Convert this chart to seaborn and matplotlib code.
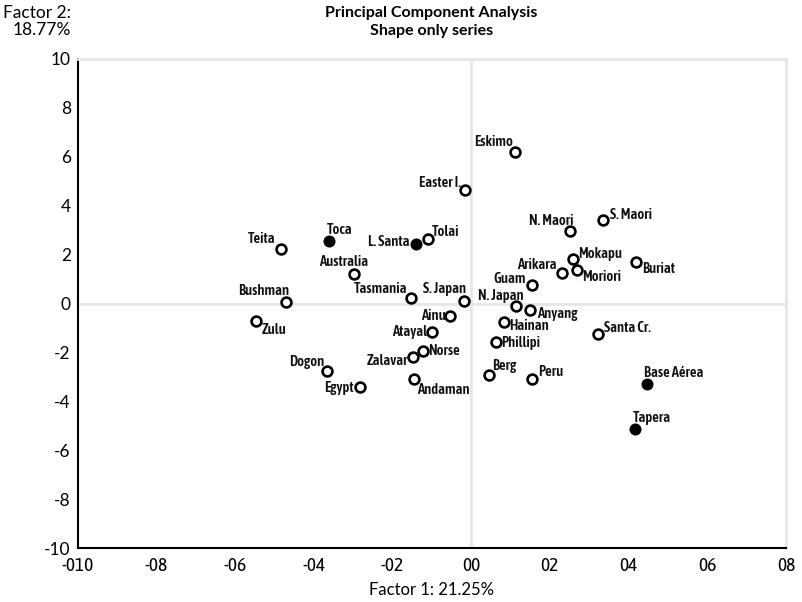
import pandas as pd
import matplotlib.pyplot as plt
import seaborn as sns

# values
names = ['Eskimo', 'Easter I.', 'Teita', 'Toca', 'L. Santa', 'Tolai', 'Australia',
         'Bushman', 'Tasmania', 'S. Japan', 'Zulu', 'Ainu', 'Atayal', 'Norse',
         'Zalavar', 'Dogon', 'Egypt', 'Andaman', 'N. Maori', 'S. Maori', 'Mokapu',
         'Arikara', 'Moriori', 'Buriat', 'Guam', 'N. Japan', 'Anyang', 'Hainan',
         'Phillipi', 'Santa Cr.', 'Berg', 'Peru', 'Base Aérea', 'Tapera']
factor1 = [1.12, -0.15, -4.84, -3.62, -1.40, -1.11, -2.99,
           -4.70, -1.53, -0.18, -5.47, -0.55, -1.00, -1.23,
           -1.47, -3.66, -2.83, -1.45, 2.52, 3.36, 2.58,
           2.30, 2.69, 4.18, 1.54, 1.13, 1.49, 0.83,
           0.62, 3.21, 0.45, 1.55, 4.47, 4.16]
factor2 = [6.18, 4.63, 2.24, 2.58, 2.42, 2.65, 1.22,
           0.05, 0.25, 0.11, -0.69, -0.52, -1.16, -1.94,
           -2.19, -2.76, -3.41, -3.07, 2.95, 3.41, 1.81,
           1.26, 1.38, 1.72, 0.77, -0.10, -0.24, -0.74,
           -1.57, -1.26, -2.93, -3.10, -3.30, -5.14]
filled = ['Toca', 'L. Santa', 'Base Aérea', 'Tapera']

x_ticks = [-10, -8, -6, -4, -2, 0, 2, 4, 6, 8]
x_tick_labels = ['-010', '-08', '-06', '-04', '-02', '00', '02', '04', '06', '08']
y_ticks = [-10, -8, -6, -4, -2, 0, 2, 4, 6, 8, 10]

# label placement: (dx px, dy px, ha)
label_pos = {
    'Eskimo': (-2, 10.5, 'right'), 'Easter I.': (-4, 7, 'right'), 'Teita': (-5, 10, 'right'),
    'Toca': (-2, 10.5, 'left'), 'L. Santa': (-7, 2, 'right'), 'Tolai': (4, 7, 'left'),
    'Australia': (-10, 12, 'center'), 'Bushman': (3, 11.5, 'right'), 'Tasmania': (-4, 8.5, 'right'),
    'S. Japan': (2, 12, 'right'), 'Zulu': (6, -9.5, 'left'), 'Ainu': (-4, 0, 'right'),
    'Atayal': (-5, 0, 'right'), 'Norse': (5, 0, 'left'), 'Zalavar': (-5, -3.5, 'right'),
    'Dogon': (-3, 9.5, 'right'), 'Egypt': (-6, -1, 'right'), 'Andaman': (3, -11.5, 'left'),
    'N. Maori': (3, 10.5, 'right'), 'S. Maori': (7, 5.5, 'left'), 'Mokapu': (5, 5.5, 'left'),
    'Arikara': (-5, 8, 'right'), 'Moriori': (5, -7, 'left'), 'Buriat': (6, -7.5, 'left'),
    'Guam': (-6, 6, 'right'), 'N. Japan': (8, 10.5, 'right'), 'Anyang': (7, -4, 'left'),
    'Hainan': (5, -4.5, 'left'), 'Phillipi': (6, -1, 'left'), 'Santa Cr.': (6, 6.5, 'left'),
    'Berg': (3, 9, 'left'), 'Peru': (6, 7.5, 'left'), 'Base Aérea': (-3, 11.5, 'left'),
    'Tapera': (-2, 11.5, 'left'),
}

df = pd.DataFrame({'name': names, 'f1': factor1, 'f2': factor2})
df['solid'] = df['name'].isin(filled)

sns.set_style('white')
main_font = ['Lato', 'DejaVu Sans']
narrow_font = ['Asap Condensed', 'Archivo Narrow', 'DejaVu Sans']
plt.rcParams['font.family'] = main_font
for key in ['text.color', 'axes.labelcolor', 'xtick.color', 'ytick.color']:
    plt.rcParams[key] = 'black'

fig = plt.figure(figsize=(8.03, 6.02), dpi=100)
ax = fig.add_axes([0.0968, 0.0892, 0.882, 0.8128])

grid_c = '#e6e6e6'
ax.axhline(0, color=grid_c, lw=2, zorder=0)
ax.axvline(0, color=grid_c, lw=2, zorder=0)

sns.scatterplot(data=df[~df['solid']], x='f1', y='f2', ax=ax, s=50,
                facecolor='white', edgecolor='black', linewidth=1.9, zorder=3)
sns.scatterplot(data=df[df['solid']], x='f1', y='f2', ax=ax, s=75,
                color='black', edgecolor='black', linewidth=0, zorder=3)

px2pt = 72 / 100
for _, r in df.iterrows():
    dx, dy, ha = label_pos[r['name']]
    ax.annotate(r['name'], (r['f1'], r['f2']), xytext=(dx * px2pt, dy * px2pt),
                textcoords='offset points', ha=ha, va='center',
                fontsize=10.5, family=narrow_font, fontweight='semibold',
                color='#111111', zorder=4)

ax.set_xlim(-10, 8)
ax.set_ylim(-10, 10)
ax.set_xticks(x_ticks)
ax.set_xticklabels(x_tick_labels, family=narrow_font, fontsize=14)
ax.set_yticks(y_ticks)
ax.set_yticklabels([str(v) for v in y_ticks], fontsize=12.5)
ax.tick_params(length=0, pad=5)
ax.tick_params(axis='x', pad=6)

for side in ['top', 'right']:
    ax.spines[side].set_color(grid_c)
    ax.spines[side].set_linewidth(2)
for side in ['left', 'bottom']:
    ax.spines[side].set_color('black')
    ax.spines[side].set_linewidth(1.5)

ax.set_xlabel('Factor 1: 21.25%', fontsize=12, labelpad=5)
ax.set_ylabel('')
fig.text(0.089, 0.992, 'Factor 2:\n18.77%', ha='right', va='top', fontsize=12.5,
         linespacing=1.1)
fig.text(0.537, 0.99, 'Principal Component Analysis\nShape only series', ha='center',
         va='top', fontsize=11.5, fontweight='bold', linespacing=1.35)

plt.savefig('out.png', dpi=100)
